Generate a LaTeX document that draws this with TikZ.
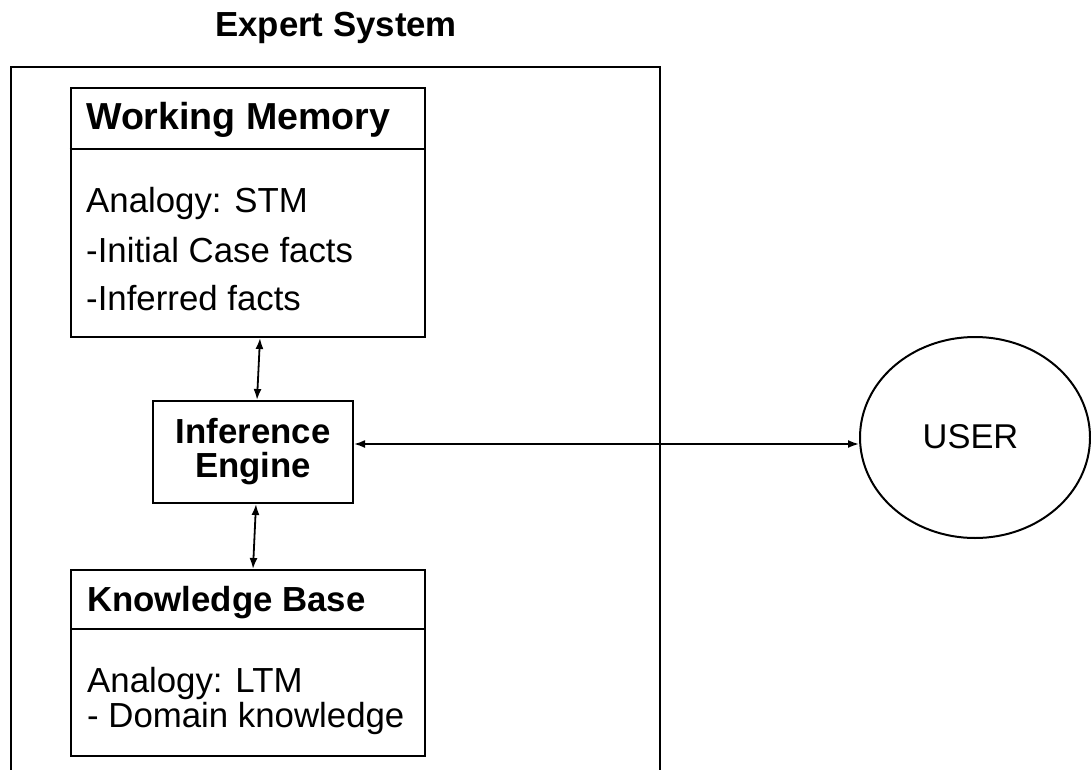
\documentclass[tikz,border=0pt]{standalone}
\usepackage{fontspec}
\setmainfont{Liberation Sans}
\usetikzlibrary{arrows.meta,shapes.geometric}
\begin{document}
\begin{tikzpicture}[x=1pt,y=-1pt,
  box/.style={draw,line width=2pt,rectangle,inner sep=0pt},
  txt/.style={anchor=base west,inner sep=0pt,font=\fontsize{34.8}{36}\selectfont},
  btxt/.style={anchor=base west,inner sep=0pt,font=\fontsize{34.8}{36}\selectfont\bfseries},
  link/.style={line width=1.8pt,{Latex[length=11pt,width=8pt]}-{Latex[length=11pt,width=8pt]}}]
\useasboundingbox (0,0) rectangle (1091,770);
% outer frame
\draw[line width=2.6pt] (11,780) -- (11,67) -- (660,67) -- (660,780);
\node[btxt] (title) at (215,37) {Expert System};
% working memory
\node[box,minimum width=354pt,minimum height=249pt] (wm) at (247.5,212.5) {};
\draw[line width=2pt] (wm.west |- 0,149) -- (wm.east |- 0,149);
\node[btxt,font=\fontsize{37.6}{38}\selectfont\bfseries] (wmt) at (86,130) {Working Memory};
\node[txt] (wm1) at (86,212) {Analogy: STM};
\node[txt] (wm2) at (86,262) {-Initial Case facts};
\node[txt] (wm3) at (86,310) {-Inferred facts};
% inference engine
\node[box,minimum width=200pt,minimum height=102pt] (ie) at (253,452) {};
\node[btxt,anchor=base] (ie1) at (253,443) {Inference};
\node[btxt,anchor=base] (ie2) at (253,477) {Engine};
% knowledge base
\node[box,minimum width=354pt,minimum height=186pt] (kb) at (248,663) {};
\draw[line width=2pt] (kb.west |- 0,629) -- (kb.east |- 0,629);
\node[btxt] (kbt) at (87,611) {Knowledge Base};
\node[txt] (kb1) at (87,692) {Analogy: LTM};
\node[txt] (kb2) at (87,727) {- Domain knowledge};
% user
\node[draw,line width=2pt,ellipse,minimum width=230pt,minimum height=201pt,inner sep=0pt] (user) at (975,437.5) {};
\node[anchor=base,inner sep=0pt,font=\fontsize{34.4}{36}\selectfont] (usert) at (970.5,448) {USER};
% connectors
\draw[link] ([xshift=12.5pt]wm.south) -- ([xshift=4pt]ie.north);
\draw[link] ([xshift=3pt]ie.south) -- ([xshift=5pt]kb.north);
\draw[link] (ie.east |- 0,444) -- (user.west |- 0,444);
\end{tikzpicture}
\end{document}
